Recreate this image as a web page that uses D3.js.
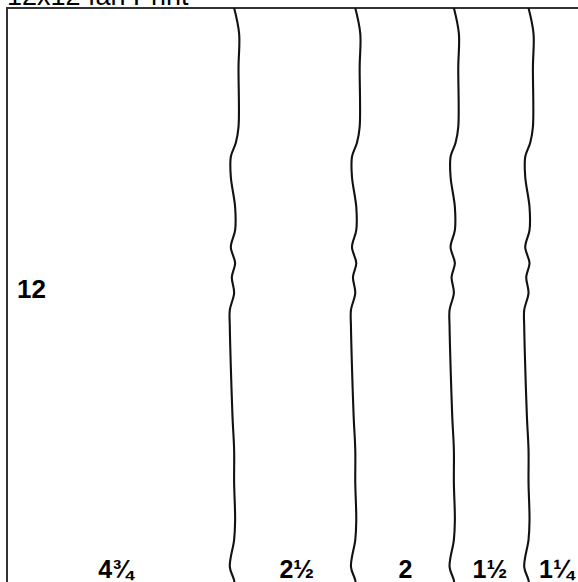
<!DOCTYPE html>
<html>
<head>
<meta charset="utf-8">
<script src="https://cdn.jsdelivr.net/npm/d3@7"></script>
<style>
  html, body { margin: 0; padding: 0; background: #fff; overflow: hidden; }
  svg { display: block; }
  text { font-family: "Liberation Sans", Arial, Helvetica, sans-serif; fill: #000; }
</style>
</head>
<body>
<svg id="chart" width="578" height="582"></svg>
<script>
// ---- data ----
const title = "12x12 fan Print";
const columnLabels = ["4¾", "2½", "2", "1½", "1¼"];
const columnWidths = [4.75, 2.5, 2, 1.5, 1.25];
const totalWidth = 12;
const totalHeight = 12;
const heightLabel = "12";

// ---- layout / style ----
const W = 578, H = 582;
const padLeft = 7, padTop = 8, unit = 48.3;
// hand-drawn squiggle profile: [position down the line (0..12), horizontal offset px]
const squiggle = [
  [0.0, 0], [0.53, 5], [1.22, 4.4], [2.46, 4.4], [2.79, 1.7], [3.08, -3.3],
  [3.5, -3.3], [4.12, 1], [4.6, 1], [4.95, -3.3], [5.28, 1], [5.57, -2.3],
  [5.9, 0], [6.25, -4.3], [6.6, -4.3], [7.43, -3.3], [8.47, -1.6], [9.15, 0],
  [9.83, 0], [10.6, 1], [11.01, 0], [11.57, -4.3], [11.85, 0], [12.2, 2]
];
const lineShift = [-2.3, -1.9, 0.1, 2.3];

const svg = d3.select("#chart");
const x = d3.scaleLinear().domain([0, totalWidth]).range([padLeft, padLeft + totalWidth * unit]);
const y = d3.scaleLinear().domain([0, totalHeight]).range([padTop, padTop + totalHeight * unit]);

// title (partly cut off at top, as in the reference)
svg.append("text")
  .attr("x", padLeft)
  .attr("y", 5)
  .attr("font-size", 27)
  .text(title);

// frame
svg.append("rect")
  .attr("x", x(0)).attr("y", y(0))
  .attr("width", x(totalWidth) - x(0))
  .attr("height", y(totalHeight) - y(0))
  .attr("fill", "none")
  .attr("stroke", "#333")
  .attr("stroke-width", 2);

// cumulative boundaries
const bounds = [0];
columnWidths.forEach(w => bounds.push(bounds[bounds.length - 1] + w));

// wavy divider lines
const line = d3.line()
  .x(d => d[0]).y(d => d[1])
  .curve(d3.curveCatmullRom.alpha(0.5));

bounds.slice(1, -1).forEach((b, i) => {
  const pts = squiggle.map(([py, dx]) => [x(b) + dx + lineShift[i], y(py)]);
  svg.append("path")
    .attr("d", line(pts))
    .attr("fill", "none")
    .attr("stroke", "#111")
    .attr("stroke-width", 2.1);
});

// column labels
columnLabels.forEach((lab, i) => {
  const cx = (x(bounds[i]) + x(bounds[i + 1])) / 2 + (i === 0 ? -6 : 0);
  svg.append("text")
    .attr("x", cx)
    .attr("y", 578)
    .attr("text-anchor", "middle")
    .attr("font-size", 25)
    .attr("font-weight", "bold")
    .text(lab);
});

// height label
svg.append("text")
  .attr("x", 17)
  .attr("y", y(totalHeight / 2))
  .attr("font-size", 26)
  .attr("font-weight", "bold")
  .text(heightLabel);
</script>
</body>
</html>
